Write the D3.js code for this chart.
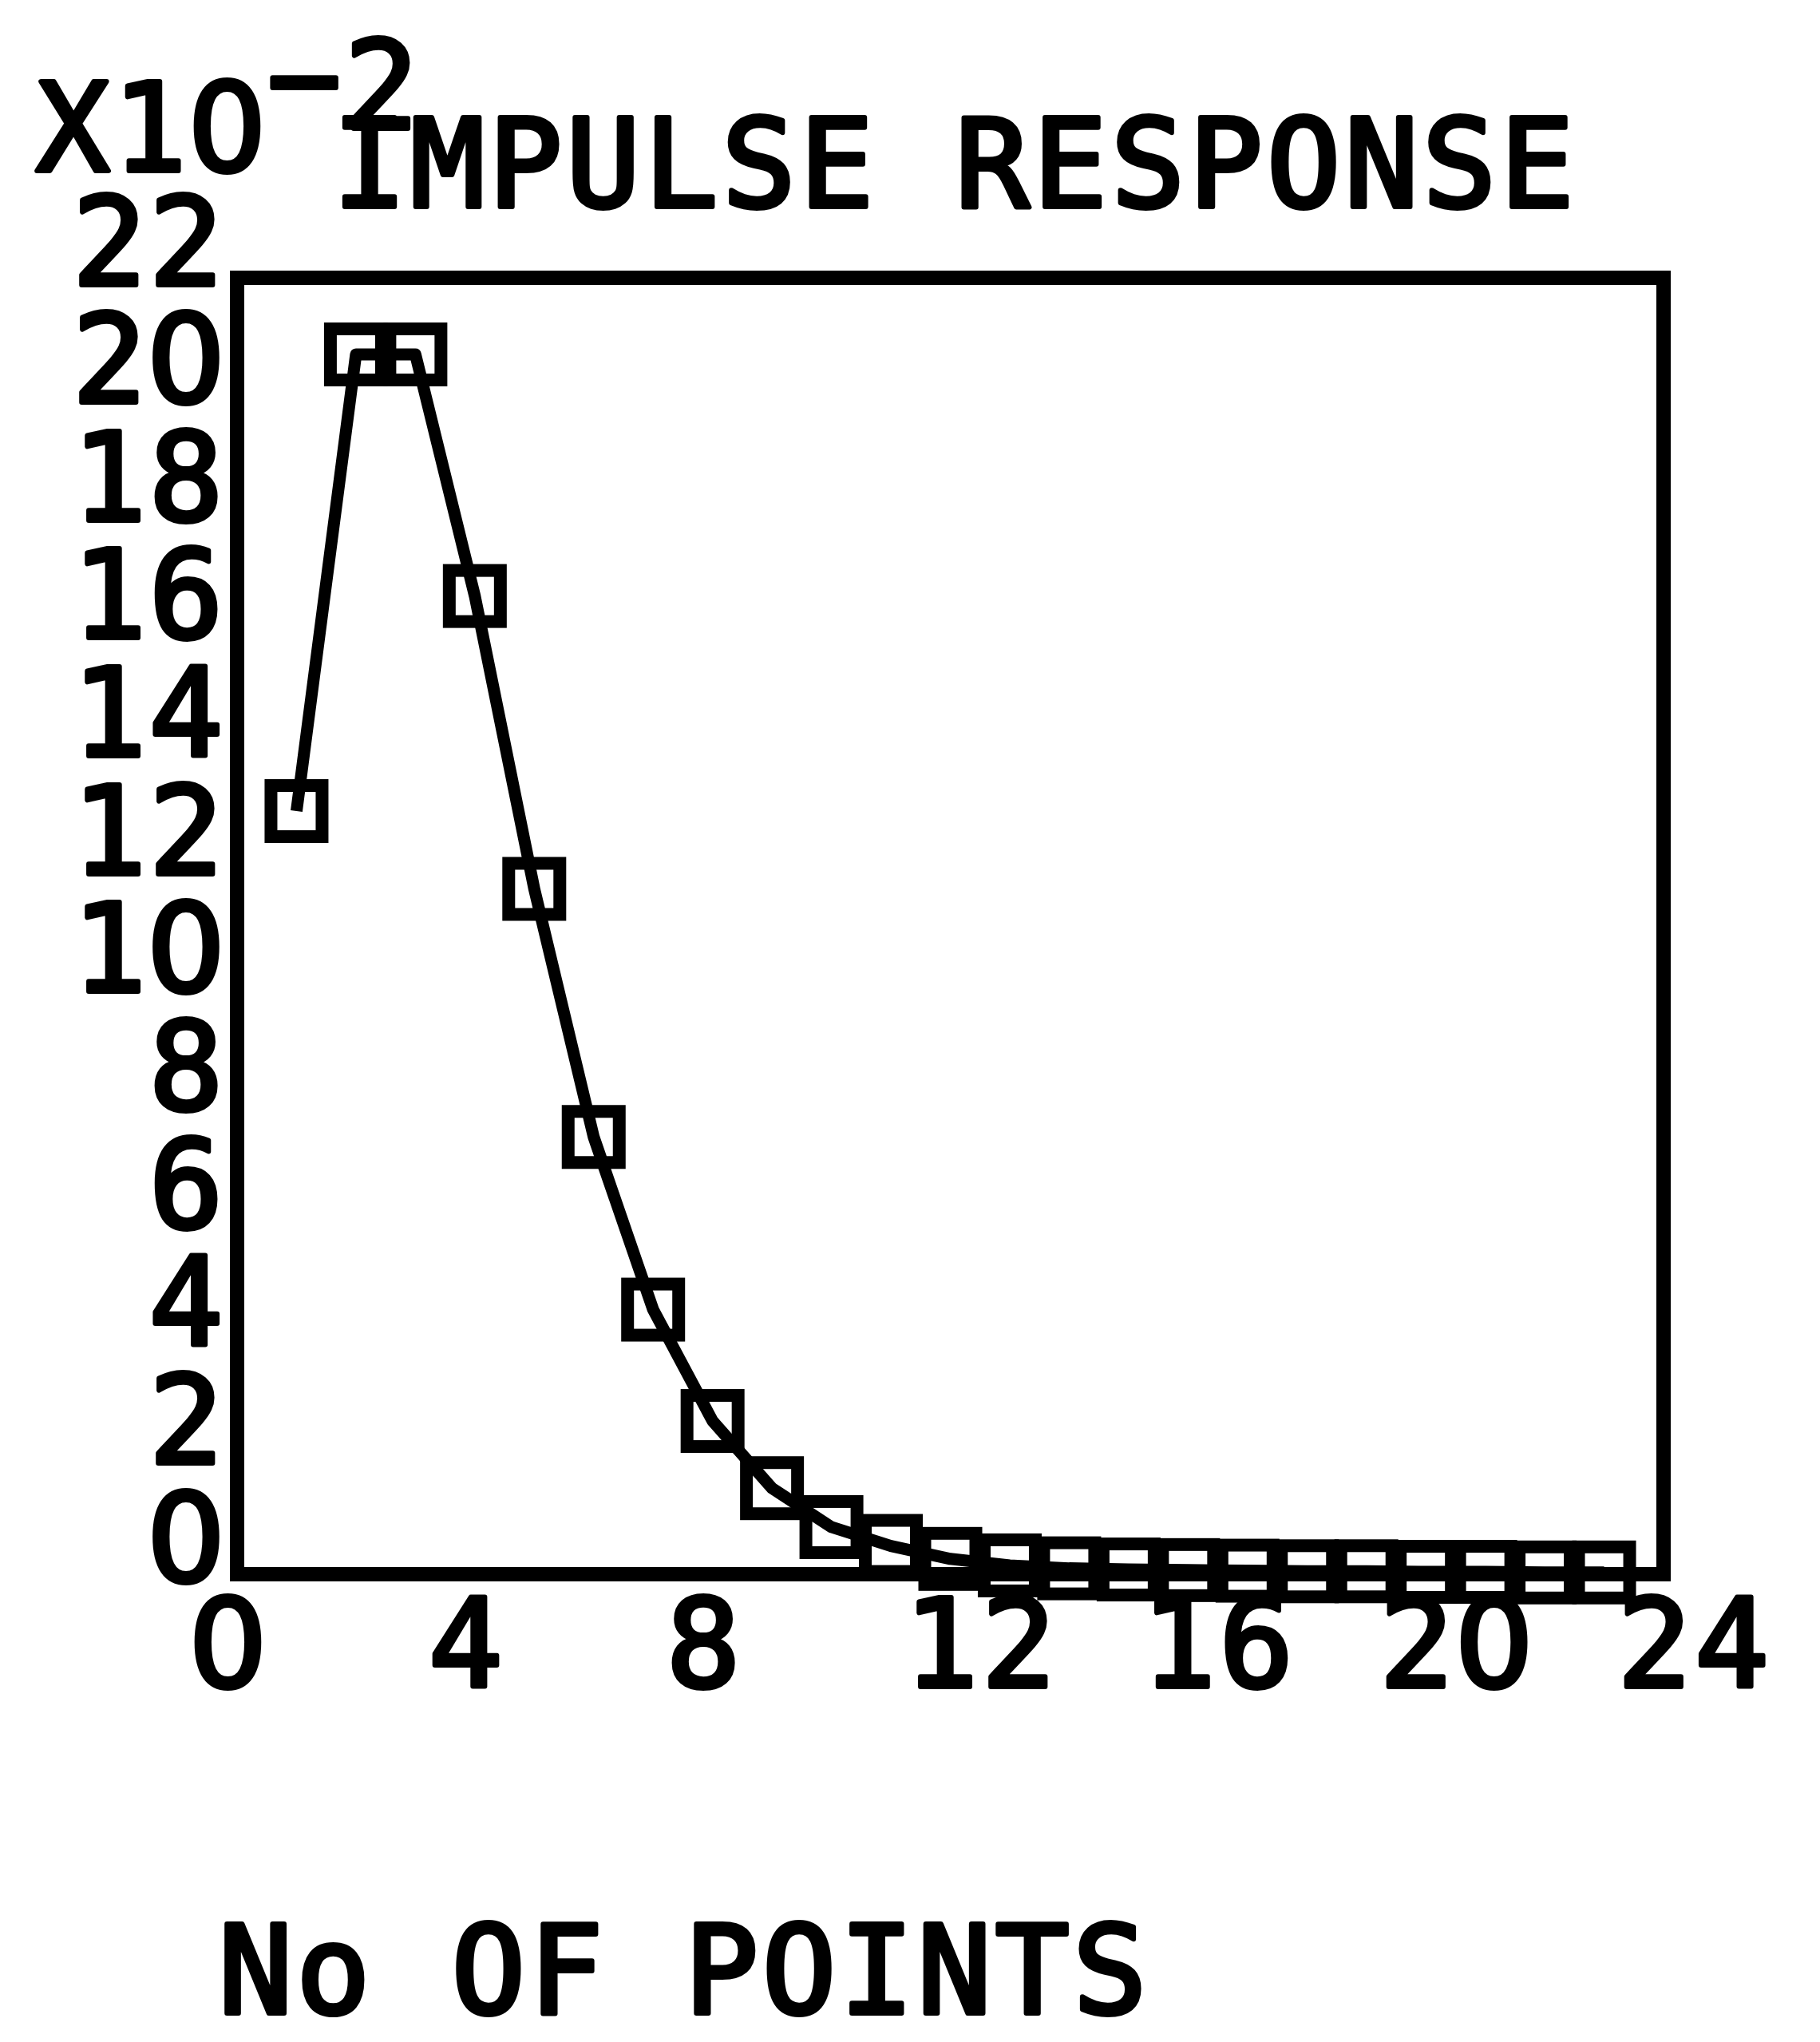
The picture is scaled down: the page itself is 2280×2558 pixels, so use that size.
<!DOCTYPE html>
<html>
<head>
<meta charset="utf-8">
<script src="https://cdn.jsdelivr.net/npm/d3@7"></script>
<style>
  html, body { margin: 0; padding: 0; background: #ffffff; }
  svg { display: block; }
  text { font-family: "DejaVu Sans Mono", "Liberation Mono", monospace; font-weight: normal;
         fill: #000; stroke: #000; stroke-width: 6px; stroke-linejoin: round; }
  tspan.zero { font-family: "DejaVu Sans", "Liberation Sans", sans-serif; }
</style>
</head>
<body>
<svg id="chart" width="2280" height="2558"></svg>
<script>
// ---- data (values in units of 10^-2) ----
const pointIndex = [1, 2, 3, 4, 5, 6, 7, 8, 9, 10, 11, 12, 13, 14, 15, 16, 17, 18, 19, 20, 21, 22, 23];
const response   = [12.95, 20.7, 20.7, 16.6, 11.63, 7.42, 4.49, 2.60, 1.46, 0.80, 0.48, 0.26, 0.15,
                    0.10, 0.08, 0.07, 0.06, 0.05, 0.05, 0.04, 0.04, 0.03, 0.03];
const xTicks = [0, 4, 8, 12, 16, 20, 24];
const yTicks = [0, 2, 4, 6, 8, 10, 12, 14, 16, 18, 20, 22];
const titleText = "IMPULSE RESPONSE";
const scaleText = "X10";
const scaleExp = "\u22122";
const xLabelText = "No OF POINTS";

// ---- layout ----
const W = 2280, H = 2558;
const plot = { left: 297, right: 2084, top: 348, bottom: 1972 };
const fontSize = 154;
const cell = 97.5;   // fixed character pitch of the plotter lettering

const svg = d3.select("#chart");
svg.append("rect").attr("width", W).attr("height", H).attr("fill", "#fff");

const x = d3.scaleLinear().domain([0, 24]).range([plot.left, plot.right]);
const y = d3.scaleLinear().domain([0, 22]).range([plot.bottom, plot.top]);

// lay out a string on a fixed character pitch, first character centred at cx0
function pitchText(textSel, str, cx0, pitch) {
  textSel.text(null)
    .attr("text-anchor", "middle")
    .attr("font-family", null).attr("fill", null)
    .style("font-size", fontSize + "px");
  Array.from(str).forEach((c, k) => {
    textSel.append("tspan")
      .attr("class", c === "0" ? "zero" : null)
      .attr("x", cx0 + k * pitch)
      .text(c);
  });
}

// frame
svg.append("rect")
  .attr("x", plot.left).attr("y", plot.top)
  .attr("width", plot.right - plot.left).attr("height", plot.bottom - plot.top)
  .attr("fill", "none").attr("stroke", "#000").attr("stroke-width", 18);

const fmt = d3.format("d");

// y axis labels: right-aligned, bottom of digits on the tick value
const yAxis = svg.append("g")
  .attr("transform", `translate(${plot.left},0)`)
  .call(d3.axisLeft(y).tickValues(yTicks).tickSize(0).tickFormat(fmt));
yAxis.select(".domain").remove();
yAxis.attr("font-family", null).attr("font-size", null);
yAxis.selectAll("text").each(function(d) {
  const s = fmt(d);
  const sel = d3.select(this).attr("y", 8).attr("dy", 0);
  pitchText(sel, s, -64 - (s.length - 1) * 96, 96);
});

// x axis labels: first character centred just left of the tick
const xAxis = svg.append("g")
  .attr("transform", `translate(0,${plot.bottom})`)
  .call(d3.axisBottom(x).tickValues(xTicks).tickSize(0).tickFormat(fmt));
xAxis.select(".domain").remove();
xAxis.attr("font-family", null).attr("font-size", null);
xAxis.selectAll("text").each(function(d) {
  const sel = d3.select(this).attr("y", 141).attr("dy", 0);
  pitchText(sel, fmt(d), -12, 97);
});

// curve
const line = d3.line()
  .x((d, i) => x(pointIndex[i]))
  .y(d => y(d))
  .curve(d3.curveLinear);
svg.append("path")
  .datum(response)
  .attr("d", line)
  .attr("fill", "none")
  .attr("stroke", "#000")
  .attr("stroke-width", 15)
  .attr("stroke-linejoin", "round");

// square markers
const sq = 64;
svg.append("g").selectAll("rect")
  .data(response)
  .join("rect")
  .attr("x", (d, i) => x(pointIndex[i]) - sq / 2)
  .attr("y", d => y(d) - sq / 2)
  .attr("width", sq).attr("height", sq)
  .attr("fill", "none")
  .attr("stroke", "#000")
  .attr("stroke-width", 16);

// scale factor label  X10 with raised -2
const sc = svg.append("text").attr("y", 214);
pitchText(sc, scaleText, 91, 96.7);
Array.from(scaleExp).forEach((c, k) => {
  sc.append("tspan")
    .attr("x", 91 + (scaleText.length + k) * 96.7)
    .attr("y", k === 0 ? 152 : 161)
    .text(c);
});

// title
const title = svg.append("text").attr("y", 259);
pitchText(title, titleText, 463, cell);

// x axis title
const xt = svg.append("text").attr("y", 2522);
pitchText(xt, xLabelText, 320, 97.3);
</script>
</body>
</html>
